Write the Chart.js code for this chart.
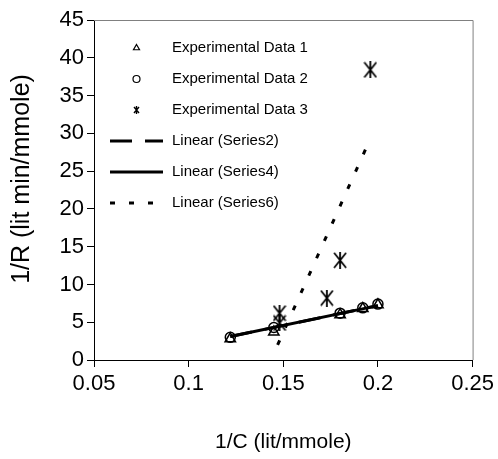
<!doctype html>
<html>
<head>
	<meta charset="utf-8">
	<title>1/R vs 1/C</title>
	<script src="https://cdn.jsdelivr.net/npm/chart.js@4.4.0/dist/chart.umd.min.js"></script>
	<style>
		html, body { margin: 0; padding: 0; background: #fff; }
		#wrap { width: 498px; height: 459px; }
	</style>
</head>
<body>
<div id="wrap"><canvas id="canvas" width="498" height="459"></canvas></div>
<script>
	// values
	var xTicks = [0.05, 0.1, 0.15, 0.2, 0.25];
	var yTicks = [0, 5, 10, 15, 20, 25, 30, 35, 40, 45];

	var data1X = [0.122, 0.145, 0.180, 0.192, 0.200];
	var data1Y = [2.8, 3.7, 6.0, 6.8, 7.3];
	var data2X = [0.122, 0.145, 0.180, 0.192, 0.200];
	var data2Y = [3.0, 4.3, 6.2, 6.9, 7.4];
	var data3X = [0.148, 0.148, 0.173, 0.180, 0.196];
	var data3Y = [4.9, 6.2, 8.2, 13.2, 38.4];

	// trend line end points
	var fit2X = [0.122, 0.200];
	var fit2Y = [3.1, 7.2];
	var fit4X = [0.122, 0.200];
	var fit4Y = [3.1, 7.2];
	var fit6X = [0.147, 0.196];
	var fit6Y = [2.0, 29.3];

	function pts(xs, ys) {
		return xs.map(function (x, i) { return { x: x, y: ys[i] }; });
	}

	var FONT = "'Liberation Sans', Arial, sans-serif";

	// Excel style star marker: an X with a vertical bar
	function starMarker(w, h, lw) {
		var cv = document.createElement('canvas');
		cv.width = w; cv.height = h;
		var c = cv.getContext('2d');
		c.strokeStyle = '#000';
		c.lineWidth = lw;
		c.beginPath();
		c.moveTo(1, 1); c.lineTo(w - 1, h - 1);
		c.moveTo(w - 1, 1); c.lineTo(1, h - 1);
		c.moveTo(w / 2, 0); c.lineTo(w / 2, h);
		c.stroke();
		return cv;
	}
	var starBig = starMarker(14, 17, 1.8);
	var starSmall = starMarker(7, 8, 1.4);

	// grey top/right frame of the plot area
	var frame = {
		id: 'frame',
		beforeDatasetsDraw: function (chart) {
			var a = chart.chartArea, c = chart.ctx;
			c.save();
			c.strokeStyle = '#808080';
			c.lineWidth = 1;
			c.beginPath();
			c.moveTo(a.left, a.top + 0.5);
			c.lineTo(a.right + 0.5, a.top + 0.5);
			c.lineTo(a.right + 0.5, a.bottom);
			c.stroke();
			c.restore();
		}
	};

	// y axis title, a little above the middle of the axis like the original
	var yTitle = {
		id: 'yTitle',
		afterDraw: function (chart) {
			var c = chart.ctx;
			c.save();
			c.translate(22, 179);
			c.rotate(-Math.PI / 2);
			c.fillStyle = '#000';
			c.font = '25px ' + FONT;
			c.textAlign = 'center';
			c.textBaseline = 'middle';
			c.fillText('1/R (lit min/mmole)', 0, 0);
			c.restore();
		}
	};

	// legend drawn inside the plot, top left (Excel style)
	var insideLegend = {
		id: 'insideLegend',
		afterDraw: function (chart) {
			var c = chart.ctx, a = chart.chartArea;
			var x0 = a.left + 16, lineW = 53, y0 = a.top + 28, step = 31;
			c.save();
			chart.data.datasets.forEach(function (ds, i) {
				var y = y0 + step * i;
				c.strokeStyle = '#000';
				c.fillStyle = 'rgba(0,0,0,0)';
				if (ds.type === 'line') {
					c.lineWidth = 3;
					c.setLineDash(ds.borderDash || []);
					c.beginPath();
					c.moveTo(x0, y);
					c.lineTo(x0 + lineW, y);
					c.stroke();
					c.setLineDash([]);
				} else {
					var ps = ds.pointStyle === starBig ? starSmall : ds.pointStyle;
					c.lineWidth = 1.2;
					Chart.helpers.drawPoint(c, { pointStyle: ps, radius: 3.5, borderWidth: 1.2 }, x0 + lineW / 2, y);
				}
				c.fillStyle = '#000';
				c.font = '15px ' + FONT;
				c.textBaseline = 'middle';
				c.textAlign = 'left';
				c.fillText(ds.label, x0 + lineW + 9, y);
			});
			c.restore();
		}
	};

	var ctx = document.getElementById('canvas').getContext('2d');
	var chart = new Chart(ctx, {
		type: 'scatter',
		data: {
			datasets: [{
				label: 'Experimental Data 1',
				data: pts(data1X, data1Y),
				pointStyle: 'triangle',
				pointRadius: 6,
				borderColor: '#000',
				backgroundColor: 'rgba(0,0,0,0)',
				borderWidth: 1.5
			}, {
				label: 'Experimental Data 2',
				data: pts(data2X, data2Y),
				pointStyle: 'circle',
				pointRadius: 5,
				borderColor: '#000',
				backgroundColor: 'rgba(0,0,0,0)',
				borderWidth: 1.5
			}, {
				label: 'Experimental Data 3',
				data: pts(data3X, data3Y),
				pointStyle: starBig,
				pointRadius: 7,
				borderColor: '#000',
				backgroundColor: 'rgba(0,0,0,0)',
				borderWidth: 1.5
			}, {
				type: 'line',
				label: 'Linear (Series2)',
				data: pts(fit2X, fit2Y),
				borderColor: '#000',
				borderWidth: 3,
				borderDash: [22, 13],
				pointRadius: 0,
				fill: false
			}, {
				type: 'line',
				label: 'Linear (Series4)',
				data: pts(fit4X, fit4Y),
				borderColor: '#000',
				borderWidth: 3,
				pointRadius: 0,
				fill: false
			}, {
				type: 'line',
				label: 'Linear (Series6)',
				data: pts(fit6X, fit6Y),
				borderColor: '#000',
				borderWidth: 3,
				borderDash: [5, 14],
				pointRadius: 0,
				fill: false
			}]
		},
		options: {
			responsive: false,
			animation: false,
			layout: { padding: { top: 20, right: 25, left: 0, bottom: 0 } },
			plugins: {
				tooltip: { enabled: false },
				legend: { display: false }
			},
			scales: {
				x: {
					type: 'linear',
					min: 0.05,
					max: 0.25,
					afterBuildTicks: function (s) { s.ticks = xTicks.map(function (v) { return { value: v }; }); },
					afterFit: function (s) { s.height = 99; },
					ticks: {
						color: '#000', font: { family: FONT, size: 22 }, padding: 4,
						callback: function (v) { return String(v); }
					},
					grid: { drawOnChartArea: false, tickLength: 7, color: '#000' },
					border: { color: '#000', width: 1 },
					title: { display: true, text: '1/C (lit/mmole)', color: '#000', font: { family: FONT, size: 21 }, padding: { top: 5 } }
				},
				y: {
					min: 0,
					max: 45,
					afterBuildTicks: function (s) { s.ticks = yTicks.map(function (v) { return { value: v }; }); },
					afterFit: function (s) { s.width = 94; },
					ticks: {
						color: '#000', font: { family: FONT, size: 22 }, padding: 3,
						callback: function (v) { return String(v); }
					},
					grid: { drawOnChartArea: false, tickLength: 7, color: '#000' },
					border: { color: '#000', width: 1 },
					title: { display: false }
				}
			}
		},
		plugins: [frame, yTitle, insideLegend]
	});
</script>
</body>
</html>
